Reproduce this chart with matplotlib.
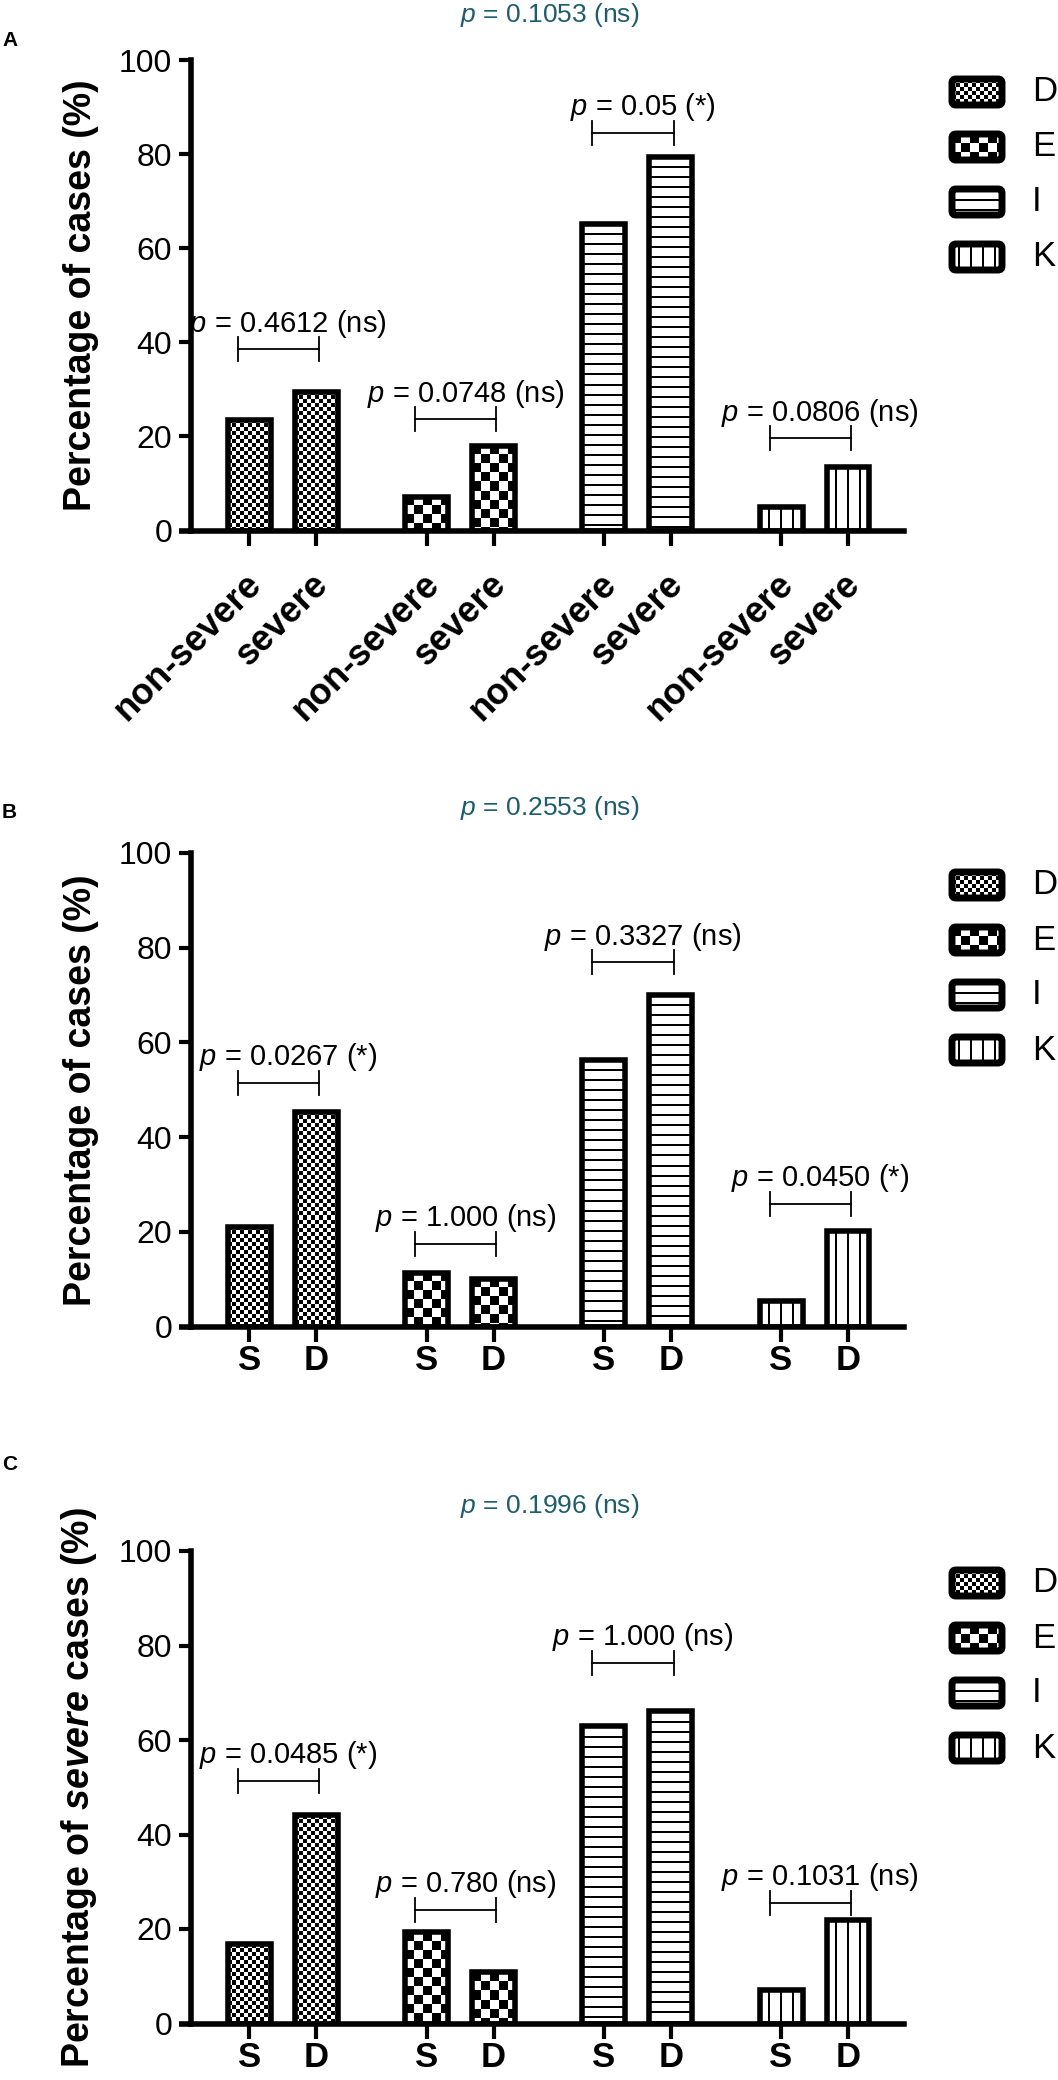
import numpy as np
import matplotlib
matplotlib.use('Agg')
import matplotlib.pyplot as plt
from matplotlib.patches import FancyBboxPatch
from matplotlib.transforms import ScaledTranslation

plt.rcParams['font.family'] = ['Liberation Sans', 'DejaVu Sans']
plt.rcParams['mathtext.fontset'] = 'custom'
plt.rcParams['mathtext.rm'] = 'Liberation Sans'
plt.rcParams['mathtext.it'] = 'Liberation Sans:italic'
plt.rcParams['mathtext.bf'] = 'Liberation Sans:bold'
plt.rcParams['mathtext.bfit'] = 'Liberation Sans:bold:italic'

# data
groups = ['D', 'E', 'I', 'K']
kinds = ['fine', 'coarse', 'hlines', 'vlines']

labels_a = ['non-severe', 'severe'] * 4
labels_bc = ['S', 'D'] * 4

pct_a = [23.5, 29.5, 7.2, 17.9, 65.1, 79.4, 4.9, 13.4]
pct_b = [21.1, 45.3, 11.3, 10.1, 56.2, 70.0, 5.3, 20.1]
pct_c = [16.8, 44.2, 19.4, 10.8, 63.0, 66.2, 7.1, 22.0]

bracket_a = [38.5, 23.6, 84.5, 19.6]
bracket_b = [51.5, 17.4, 76.9, 25.9]
bracket_c = [51.4, 24.1, 76.4, 25.6]

p_a = ['0.4612 (ns)', '0.0748 (ns)', '0.05 (*)', '0.0806 (ns)']
p_b = ['0.0267 (*)', '1.000 (ns)', '0.3327 (ns)', '0.0450 (*)']
p_c = ['0.0485 (*)', '0.780 (ns)', '1.000 (ns)', '0.1031 (ns)']

title_p = ['0.1053 (ns)', '0.2553 (ns)', '0.1996 (ns)']

W, H = 1058, 2080
DPI = 100
TEAL = '#1c5e6e'

fig = plt.figure(figsize=(W / DPI, H / DPI), dpi=DPI)


def pattern(kind, h, w):
    r = np.arange(h)[:, None]
    c = np.arange(w)[None, :]
    if kind == 'fine':
        m = (r // 4 + c // 4) % 2 == 0
    elif kind == 'coarse':
        m = (r // 9 + c // 9) % 2 == 0
    elif kind == 'hlines':
        m = (r % 10 < 2) & (c >= 0)
    else:
        off = (w % 12) // 2 + 5
        m = ((c - off) % 12 < 2) & (r >= 0)
    return np.where(m, 0.0, 1.0)


def draw_panel(top, bottom, vals, xlabels, brackets, ptexts, title, ylabel, rotate):
    ax = fig.add_axes([191 / W, 1 - bottom / H, 713 / W, (bottom - top) / H])
    xs = [g * 2.645 + i for g in range(4) for i in range(2)]
    x0, x1 = -0.873, 9.77
    px_x = 713 / (x1 - x0)
    px_y = (bottom - top) / 100

    bars = ax.bar(xs, vals, width=0.64, color='white', edgecolor='none', zorder=1)
    for k, b in enumerate(bars):
        w_px = max(1, int(round(b.get_width() * px_x)))
        h_px = max(1, int(round(b.get_height() * px_y)))
        im = ax.imshow(pattern(kinds[k // 2], h_px, w_px),
                       extent=(b.get_x(), b.get_x() + b.get_width(), 0, b.get_height()),
                       cmap='gray', vmin=0, vmax=1, interpolation='nearest',
                       aspect='auto', zorder=2)
        im.set_clip_path(b)
    ax.bar(xs, vals, width=0.64, fill=False, edgecolor='black', linewidth=4, zorder=3)

    # comparison brackets
    cap = 12 / px_y
    for k in range(4):
        a = xs[2 * k] - 0.17
        c = xs[2 * k + 1] + 0.04
        y = brackets[k]
        ax.plot([a, c], [y, y], color='black', lw=1.3)
        ax.plot([a, a], [y - cap, y + cap], color='black', lw=1.3)
        ax.plot([c, c], [y - cap, y + cap], color='black', lw=1.3)
        ax.annotate('$p$ = ' + ptexts[k], xy=((a + c) / 2, y), xytext=(7, 7),
                    textcoords='offset points', ha='center', va='bottom', fontsize=21)

    ax.set_xlim(x0, x1)
    ax.set_ylim(0, 100)
    ax.set_yticks(range(0, 101, 20))
    ax.set_xticks(xs)
    for s in ['top', 'right']:
        ax.spines[s].set_visible(False)
    for s in ['left', 'bottom']:
        ax.spines[s].set_linewidth(4)
    ax.plot([-12 / 713, 0], [0, 0], transform=ax.transAxes, color='black', lw=4,
            clip_on=False, solid_capstyle='butt')
    ax.tick_params(axis='y', length=8.6, width=3, labelsize=23, pad=5)
    if rotate:
        ax.tick_params(axis='x', length=10.8, width=3, pad=24)
        ax.set_xticklabels(xlabels, rotation=45, ha='right', va='center',
                           rotation_mode='anchor', fontsize=26, fontweight='bold')
        for lab in ax.get_xticklabels():
            lab.set_transform(lab.get_transform() + ScaledTranslation(7 / DPI, 0, fig.dpi_scale_trans))
    else:
        ax.tick_params(axis='x', length=10.8, width=3, pad=2)
        ax.set_xticklabels(xlabels, fontsize=25, fontweight='bold')

    ax.set_ylabel(ylabel, fontsize=27, fontweight='bold')
    ax.yaxis.set_label_coords(-0.129, 0.5)

    ax.text((550 - 191) / 713, 1 + 45 / (bottom - top), '$p$ = ' + title,
            transform=ax.transAxes, ha='center', va='center', fontsize=19, color=TEAL)

    # legend
    leg = fig.add_axes([940 / W, 1 - (top + 240) / H, 118 / W, 230 / H])
    leg.axis('off')
    for i, name in enumerate(groups):
        y0 = 6 + i * 55
        box = FancyBboxPatch((12, y0 + 3), 50, 26, boxstyle='round,pad=0,rounding_size=4',
                             facecolor='white', edgecolor='none', zorder=1)
        leg.add_patch(box)
        im = leg.imshow(pattern(kinds[i], 26, 50), extent=(12, 62, y0 + 29, y0 + 3),
                        cmap='gray', vmin=0, vmax=1, interpolation='nearest',
                        aspect='auto', zorder=2)
        im.set_clip_path(box)
        leg.add_patch(FancyBboxPatch((12, y0 + 3), 50, 26, boxstyle='round,pad=0,rounding_size=4',
                                     fill=False, edgecolor='black', linewidth=5, zorder=3))
        leg.text(92, y0 + 16, name, va='center', ha='left', fontsize=25)
    leg.set_xlim(0, 118)
    leg.set_ylim(230, 0)
    return ax


draw_panel(60, 530.5, pct_a, labels_a, bracket_a, p_a, title_p[0],
           'Percentage of cases (%)', True)
draw_panel(853, 1326.5, pct_b, labels_bc, bracket_b, p_b, title_p[1],
           'Percentage of cases (%)', False)
draw_panel(1551, 2023.5, pct_c, labels_bc, bracket_c, p_c, title_p[2],
           r'Percentage of $\mathbfit{severe}$ cases (%)', False)

for letter, yp in zip(['A', 'B', 'C'], [40, 812, 1464]):
    fig.text(2 / W, 1 - yp / H, letter, fontsize=15, fontweight='bold', va='center', ha='left')

fig.savefig('out.png', dpi=DPI)
